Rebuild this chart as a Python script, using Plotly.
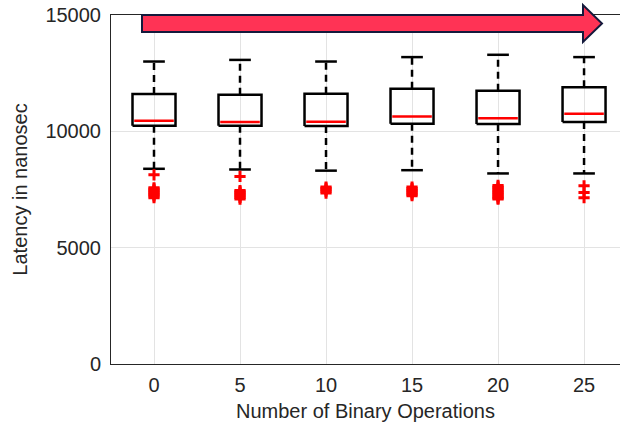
import plotly.graph_objects as go

# Latency distribution per number of binary operations
categories = [0, 5, 10, 15, 20, 25]
upper_whisker = [13000, 13070, 13000, 13190, 13290, 13190]
q3 = [11600, 11570, 11610, 11830, 11740, 11890]
median = [10460, 10400, 10410, 10640, 10560, 10760]
q1 = [10240, 10240, 10230, 10330, 10310, 10400]
lower_whisker = [8390, 8360, 8310, 8330, 8190, 8190]
outliers = [
    [8130, 7575, 7520, 7460, 7400, 7340, 7280, 7220, 7146],
    [8060, 7458, 7400, 7340, 7280, 7220, 7160, 7088],
    [7605, 7550, 7490, 7430, 7348],
    [7605, 7540, 7480, 7420, 7360, 7300, 7232],
    [7674, 7610, 7550, 7490, 7430, 7370, 7310, 7250, 7190, 7130, 7090],
    [7661, 7373, 7146],
]
x_ticks = [0, 5, 10, 15, 20, 25]
y_ticks = [0, 5000, 10000, 15000]

BOX_HALF = 1.25
CAP_HALF = 0.63
INK = "#000000"
LW = 2.5

fig = go.Figure()

for i, c in enumerate(categories):
    # box outline
    fig.add_trace(go.Scatter(
        x=[c - BOX_HALF, c + BOX_HALF, c + BOX_HALF, c - BOX_HALF, c - BOX_HALF],
        y=[q1[i], q1[i], q3[i], q3[i], q1[i]],
        mode="lines", line=dict(color=INK, width=LW), hoverinfo="skip"))
    # dashed whiskers
    fig.add_trace(go.Scatter(
        x=[c, c, None, c, c],
        y=[q3[i], upper_whisker[i], None, q1[i], lower_whisker[i]],
        mode="lines", line=dict(color=INK, width=LW, dash="7px,5px"), hoverinfo="skip"))
    # whisker caps
    fig.add_trace(go.Scatter(
        x=[c - CAP_HALF, c + CAP_HALF, None, c - CAP_HALF, c + CAP_HALF],
        y=[upper_whisker[i], upper_whisker[i], None, lower_whisker[i], lower_whisker[i]],
        mode="lines", line=dict(color=INK, width=LW), hoverinfo="skip"))
    # median
    fig.add_trace(go.Scatter(
        x=[c - BOX_HALF + 0.1, c + BOX_HALF - 0.1],
        y=[median[i], median[i]],
        mode="lines", line=dict(color="#ff0000", width=LW), hoverinfo="skip"))
    # outliers
    fig.add_trace(go.Scatter(
        x=[c] * len(outliers[i]), y=outliers[i], mode="markers",
        marker=dict(symbol="cross-thin", size=8, line=dict(color="#ff0000", width=3)),
        hoverinfo="skip"))

# Trend arrow along the top edge (pixel layout converted to paper coords)
L, R, T, B = 111, 620, 15, 364.5
def px(xp, yp):
    return (xp - L) / (R - L), (B - yp) / (B - T)

arrow_pts = [(142, 15), (583, 15), (583, 5), (602, 23.5), (583, 42), (583, 32), (142, 32)]
path = ""
for k, (xp, yp) in enumerate(arrow_pts):
    u, v = px(xp, yp)
    path += ("M" if k == 0 else "L") + f"{u:.5f},{v:.5f} "
path += "Z"
fig.add_shape(type="path", path=path, xref="paper", yref="paper",
              fillcolor="#ff3355", line=dict(color="#141a3c", width=2), layer="above")

FONT = "Liberation Sans, Arial"
tick_font = dict(family=FONT, size=20, color="#262626")

fig.update_layout(
    width=620, height=425,
    margin=dict(l=L, r=0, t=T, b=425 - B),
    paper_bgcolor="white", plot_bgcolor="white",
    showlegend=False,
    xaxis=dict(range=[-2.5, 27.09], tickvals=x_ticks, ticktext=[str(v) for v in x_ticks],
               showgrid=True, gridcolor="#e3e3e3", gridwidth=1,
               showline=True, linecolor="#262626", linewidth=1, mirror=True,
               ticks="", zeroline=False, tickfont=tick_font, ticklabelstandoff=3,
               title=dict(text="Number of Binary Operations", standoff=8,
                          font=dict(family=FONT, size=20, color="#262626"))),
    yaxis=dict(range=[0, 15000], tickvals=y_ticks, ticktext=[str(v) for v in y_ticks],
               showgrid=True, gridcolor="#e3e3e3", gridwidth=1,
               showline=True, linecolor="#262626", linewidth=1, mirror=False,
               ticks="", zeroline=False, tickfont=tick_font, ticklabelstandoff=5,
               title=dict(text="Latency in nanosec", standoff=12,
                          font=dict(family=FONT, size=20, color="#262626"))),
)

fig.write_html("out.html")
